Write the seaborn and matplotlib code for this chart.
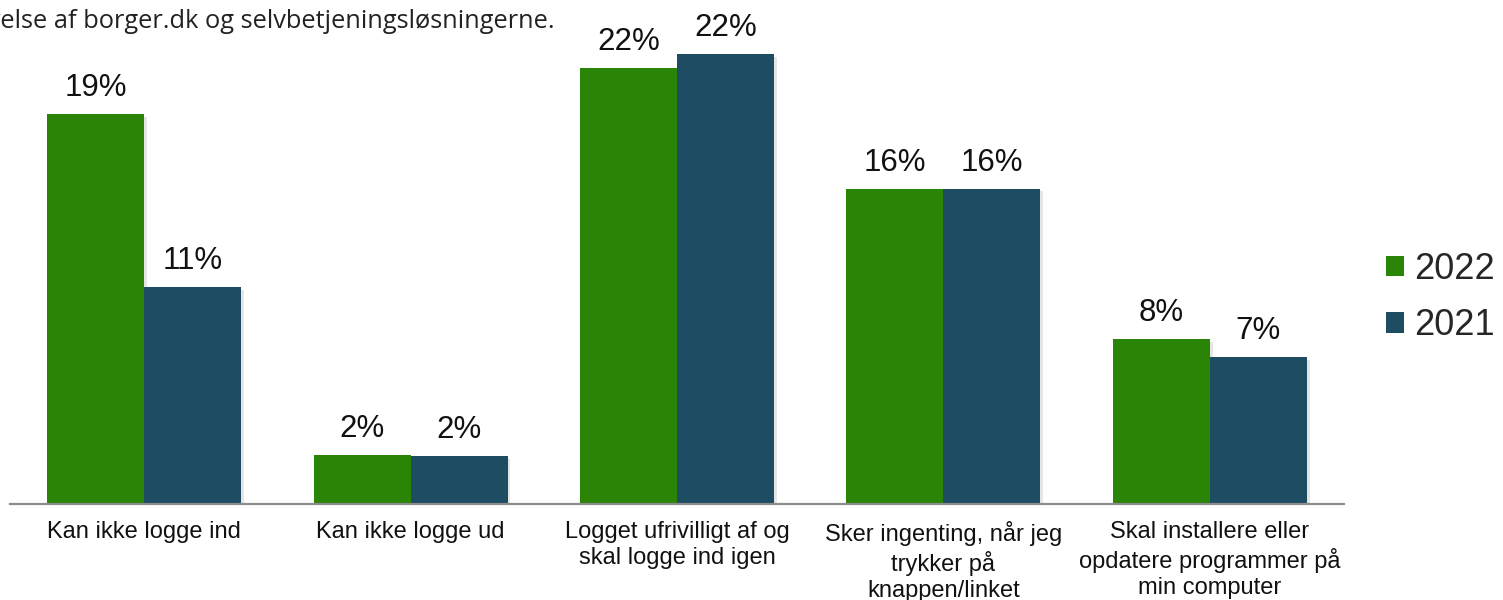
import matplotlib
matplotlib.use("Agg")
import matplotlib.pyplot as plt
import matplotlib.patheffects as pe
from matplotlib.patches import Patch
import seaborn as sns
import pandas as pd

categories = [
    "Kan ikke logge ind",
    "Kan ikke logge ud",
    "Logget ufrivilligt af og\nskal logge ind igen",
    "Sker ingenting, når jeg\ntrykker på\nknappen/linket",
    "Skal installere eller\nopdatere programmer på\nmin computer",
]
years = ["2022", "2021"]
values_2022 = [19.4, 2.45, 21.7, 15.7, 8.2]
values_2021 = [10.8, 2.4, 22.4, 15.7, 7.3]
colors = ["#2A8506", "#1E4D63"]
title = "Oplevelse af borger.dk og selvbetjeningsløsningerne."

df = pd.DataFrame({
    "kategori": categories * 2,
    "år": [years[0]] * len(categories) + [years[1]] * len(categories),
    "andel": values_2022 + values_2021,
})

sns.set_theme(style="white")
plt.rcParams["font.family"] = ["Liberation Sans", "DejaVu Sans"]

fig = plt.figure(figsize=(15.03, 6.0), dpi=100)
ax = fig.add_axes([10 / 1503, 96 / 600, 1334 / 1503, 482 / 600])

sns.barplot(data=df, x="kategori", y="andel", hue="år", hue_order=years,
            order=categories, palette=colors, width=0.728, gap=0,
            saturation=1, ax=ax, legend=False, errorbar=None)

for p in ax.patches:
    p.set_edgecolor("none")
    p.set_path_effects([pe.SimplePatchShadow(offset=(2, -2), shadow_rgbFace="#000000", alpha=0.1),
                        pe.Normal()])

for cont in ax.containers:
    ax.bar_label(cont, labels=[f"{v:.0f}%" for v in cont.datavalues],
                 padding=8, fontsize=22.5, color="#111111")

ax.set_xlim(-0.503, 4.503)
ax.set_ylim(0, 24)
ax.set_xlabel("")
ax.set_ylabel("")
ax.set_yticks([])
for s in ["top", "right", "left"]:
    ax.spines[s].set_visible(False)
ax.spines["bottom"].set_color("#8C8C8C")
ax.spines["bottom"].set_linewidth(1.6)
ax.tick_params(axis="x", length=0, pad=12.5, labelsize=17, labelcolor="#111111")
for t in ax.get_xticklabels():
    t.set_linespacing(1.22)

handles = [Patch(facecolor=c, edgecolor="none") for c in colors]
fig.legend(handles, years, loc="center left", bbox_to_anchor=(1386 / 1503, 1 - 297.5 / 600),
           frameon=False, fontsize=26, handlelength=0.5, handleheight=0.5,
           handletextpad=0.28, labelspacing=0.6, borderpad=0, borderaxespad=0)

fig.text(555 / 1503, 1 - 21 / 600, title, ha="right", va="center",
         fontsize=18.3, color="#222222", family=["Open Sans", "DejaVu Sans"])

fig.savefig("out.png", dpi=100)
